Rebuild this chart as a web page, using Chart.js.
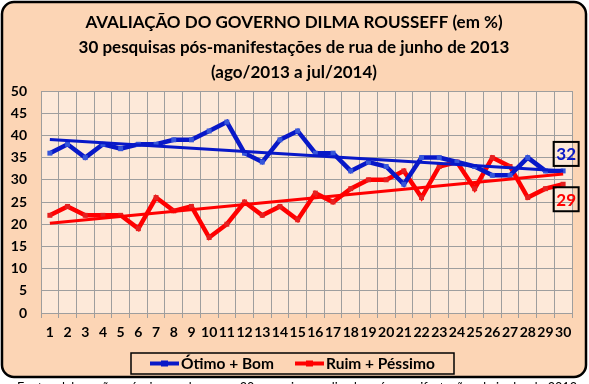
<!DOCTYPE html>
<html>
<head>
<meta charset="utf-8">
<script src="https://cdn.jsdelivr.net/npm/chart.js@4.4.1/dist/chart.umd.min.js"></script>
<style>
  html, body { margin: 0; padding: 0; background: #fff; }
  #wrap { width: 589px; height: 384px; position: relative; }
</style>
</head>
<body>
<div id="wrap"><canvas id="grafico"></canvas></div>
<script>
// pesquisas 1..30 (ago/2013 a jul/2014)
const pesquisas = ['1','2','3','4','5','6','7','8','9','10','11','12','13','14','15',
                   '16','17','18','19','20','21','22','23','24','25','26','27','28','29','30'];
const otimoBom = [36,38,35,38,37,38,38,39,39,41,43,36,34,39,41,36,36,32,34,33,29,35,35,34,33,31,31,35,32,32];
const ruimPessimo = [22,24,22,22,22,19,26,23,24,17,20,25,22,24,21,27,25,28,30,30,32,26,33,34,28,35,33,26,28,29];
// linhas de tendência: valor na 1ª e na 30ª pesquisa
const tendOtimoBom = [39.1, 32.0];
const tendRuimPessimo = [20.2, 31.3];
const eixoY = [0, 50, 5]; // min, max, passo

const titulo = ['AVALIAÇÃO DO GOVERNO DILMA ROUSSEFF (em %)',
                '30 pesquisas pós-manifestações de rua de junho de 2013',
                '(ago/2013 a jul/2014)'];
const fonte = 'Fonte: elaboração própria com base nas 30 pesquisas realizadas pós-manifestações de junho de 2013';

const AZUL = '#0818C8';
const VERMELHO = '#FF0000';

function linhaTendencia(ends) {
    const arr = pesquisas.map(() => null);
    arr[0] = ends[0];
    arr[arr.length - 1] = ends[1];
    return arr;
}

Chart.defaults.font.family = 'Lato';
Chart.defaults.color = '#000';

// fundo, título, legenda e rótulos finais
const moldura = {
    id: 'moldura',
    beforeDraw(chart) {
        const ctx = chart.ctx;
        const a = chart.chartArea;
        ctx.save();
        ctx.fillStyle = '#fff';
        ctx.fillRect(0, 0, chart.width, chart.height);
        ctx.beginPath();
        ctx.roundRect(2, 2, 584, 375, 12);
        ctx.fillStyle = '#FCD5B5';
        ctx.fill();
        ctx.lineWidth = 2.5;
        ctx.strokeStyle = '#000';
        ctx.stroke();
        ctx.fillStyle = '#FDE9D9';
        ctx.fillRect(a.left, a.top, a.right - a.left, a.bottom - a.top);

        ctx.fillStyle = '#000';
        ctx.font = 'bold 17px Lato';
        ctx.textAlign = 'center';
        ctx.textBaseline = 'middle';
        titulo.forEach((t, i) => ctx.fillText(t, 294, 23 + i * 25));
        ctx.restore();
    },
    afterDraw(chart) {
        const ctx = chart.ctx;
        ctx.save();
        // legenda
        ctx.fillStyle = '#FCD5B5';
        ctx.fillRect(131, 353, 323, 21);
        ctx.lineWidth = 1.5;
        ctx.strokeStyle = '#000';
        ctx.strokeRect(131, 353, 323, 21);
        const itens = [[150, 'Ótimo + Bom', AZUL], [295, 'Ruim + Péssimo', VERMELHO]];
        ctx.font = 'bold 15.5px Lato';
        ctx.textBaseline = 'middle';
        ctx.textAlign = 'left';
        itens.forEach(([x, txt, cor]) => {
            ctx.strokeStyle = cor;
            ctx.lineWidth = 4;
            ctx.beginPath();
            ctx.moveTo(x, 363.5);
            ctx.lineTo(x + 29, 363.5);
            ctx.stroke();
            ctx.fillStyle = cor;
            ctx.fillRect(x + 11, 360.5, 7, 6);
            ctx.fillStyle = '#000';
            ctx.fillText(txt, x + 31, 364);
        });

        // rótulos do último ponto
        const xs = chart.scales.x, ys = chart.scales.y;
        const n = pesquisas.length - 1;
        const rot = [[otimoBom[n], AZUL, -17], [ruimPessimo[n], VERMELHO, 15]];
        ctx.font = 'bold 17px Lato';
        ctx.textAlign = 'center';
        rot.forEach(([v, cor, dy]) => {
            const cx = xs.getPixelForValue(n) + 3;
            const cy = ys.getPixelForValue(v) + dy;
            ctx.lineWidth = 2;
            ctx.strokeStyle = '#000';
            ctx.strokeRect(cx - 12.5, cy - 12, 25, 24);
            ctx.fillStyle = cor;
            ctx.fillText(String(v), cx, cy + 1);
        });

        // fonte (cortada na borda inferior)
        ctx.fillStyle = '#000';
        ctx.font = '14px Lato';
        ctx.textAlign = 'left';
        ctx.textBaseline = 'top';
        ctx.fillText(fonte, 17, 380, 560);
        ctx.restore();
    }
};

new Chart(document.getElementById('grafico'), {
    type: 'line',
    data: {
        labels: pesquisas,
        datasets: [
            {
                label: 'Tendência Ótimo + Bom',
                data: linhaTendencia(tendOtimoBom),
                borderColor: AZUL,
                borderWidth: 3,
                pointRadius: 0,
                spanGaps: true
            },
            {
                label: 'Tendência Ruim + Péssimo',
                data: linhaTendencia(tendRuimPessimo),
                borderColor: VERMELHO,
                borderWidth: 3,
                pointRadius: 0,
                spanGaps: true
            },
            {
                label: 'Ótimo + Bom',
                data: otimoBom,
                borderColor: AZUL,
                backgroundColor: '#3656DA',
                borderWidth: 4.5,
                pointStyle: 'rect',
                pointRadius: 3.5,
                pointBorderWidth: 0,
                tension: 0
            },
            {
                label: 'Ruim + Péssimo',
                data: ruimPessimo,
                borderColor: VERMELHO,
                backgroundColor: '#E52020',
                borderWidth: 4.5,
                pointStyle: 'rect',
                pointRadius: 3.5,
                pointBorderWidth: 0,
                tension: 0
            }
        ]
    },
    options: {
        responsive: true,
        maintainAspectRatio: false,
        animation: false,
        layout: { padding: { top: 91, left: 0, right: 17, bottom: 41 } },
        plugins: {
            legend: { display: false },
            title: { display: false },
            tooltip: { enabled: false }
        },
        scales: {
            x: {
                offset: true,
                grid: { offset: true, color: '#9E9E9E', tickLength: 5, drawTicks: true },
                border: { color: '#9E9E9E' },
                ticks: {
                    autoSkip: false, maxRotation: 0, minRotation: 0, padding: 6,
                    font: { size: 14, weight: 'bold' }, color: '#000'
                },
                afterFit(scale) { scale.height = 30; }
            },
            y: {
                min: eixoY[0], max: eixoY[1],
                grid: { color: '#9E9E9E', drawTicks: false },
                border: { color: '#9E9E9E' },
                ticks: {
                    stepSize: eixoY[2], padding: 14,
                    font: { size: 14, weight: 'bold' }, color: '#000'
                },
                afterFit(scale) { scale.width = 41; }
            }
        }
    },
    plugins: [moldura]
});
</script>
</body>
</html>
